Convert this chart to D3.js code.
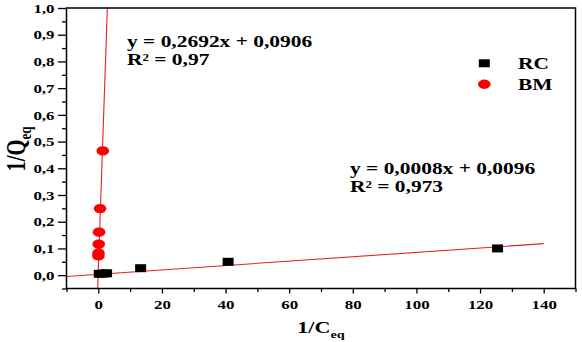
<!DOCTYPE html>
<html>
<head>
<meta charset="utf-8">
<script src="https://cdn.jsdelivr.net/npm/d3@7"></script>
<style>
  body { margin: 0; background: #fff; }
</style>
</head>
<body>
<svg id="chart" width="582" height="342"></svg>
<script>
//data
const rcX = [0.3, 1.5, 2.6, 13.3, 40.8, 125.5];
const rcY = [0.005, 0.006, 0.007, 0.026, 0.05, 0.1];
const bmX = [0.02, 0.05, 0.12, 0.22, 0.55, 1.4];
const bmY = [0.072, 0.083, 0.116, 0.161, 0.249, 0.465];

//fit lines as drawn (endpoints)
const rcFitX = [-10, 140];
const rcFitY = [-0.005, 0.118];
const bmFitX = [-0.2, 2.84];
const bmFitY = [-0.05, 1.0];

const xTicks = [0, 20, 40, 60, 80, 100, 120, 140];
const xMinor = [-10, 10, 30, 50, 70, 90, 110, 130, 150];
const yTicks = [0, 0.1, 0.2, 0.3, 0.4, 0.5, 0.6, 0.7, 0.8, 0.9, 1.0];
const yMinor = [-0.05, 0.05, 0.15, 0.25, 0.35, 0.45, 0.55, 0.65, 0.75, 0.85, 0.95];

const eqBM = ["y = 0,2692x + 0,0906", "R² = 0,97"];
const eqRC = ["y = 0,0008x + 0,0096", "R² = 0,973"];
const legendNames = ["RC", "BM"];

//setting dimensions
const pLeft = 66.5, pRight = 575.5, pTop = 8, pBottom = 288.5;
const stretch = 1.3; //the picture is wider than tall, text too
const FONT = "'Liberation Serif', 'Times New Roman', serif";
const svg = d3.select("#chart");

const scaleX = d3.scaleLinear().domain([-10, 150]).range([pLeft, pRight]);
const scaleY = d3.scaleLinear().domain([-0.05, 1.0]).range([pBottom, pTop]);

const fmt = d => d3.format(".1f")(d).replace(".", ",");

const styleText = function(sel, size){
  return sel.style("font-family", FONT).style("font-weight", "bold").style("font-size", size + "px").attr("fill", "#000");
};

//write stretched text at x, y
const addText = function(x, y, str, size){
  return styleText(svg.append("text"), size)
    .attr("transform", `translate(${x}, ${y}) scale(${stretch}, 1)`)
    .text(str);
};

//fit lines
const line = d3.line().x(d => scaleX(d[0])).y(d => scaleY(d[1]));
svg.append("path")
  .datum(d3.zip(rcFitX, rcFitY))
  .attr("fill", "none").attr("stroke", "#e32020").attr("stroke-width", 1.1)
  .attr("d", line);

svg.append("clipPath").attr("id", "clip")
  .append("rect").attr("x", pLeft).attr("y", pTop).attr("width", pRight - pLeft).attr("height", pBottom - pTop);
svg.append("path")
  .datum(d3.zip(bmFitX, bmFitY))
  .attr("clip-path", "url(#clip)")
  .attr("fill", "none").attr("stroke", "#e32020").attr("stroke-width", 1.1)
  .attr("d", line);

//markers
svg.append("g").selectAll("ellipse")
  .data(d3.zip(bmX, bmY))
  .join("ellipse")
  .attr("cx", d => scaleX(d[0])).attr("cy", d => scaleY(d[1]))
  .attr("rx", 6.3).attr("ry", 4.7)
  .attr("fill", "#ff0000");

svg.append("g").selectAll("rect")
  .data(d3.zip(rcX, rcY))
  .join("rect")
  .attr("x", d => scaleX(d[0]) - 5.5).attr("y", d => scaleY(d[1]) - 4)
  .attr("width", 11).attr("height", 8)
  .attr("fill", "#000");

//x axis
const gx = svg.append("g").attr("transform", `translate(0, ${pBottom})`)
  .call(d3.axisBottom(scaleX).tickValues(xTicks).tickFormat(d3.format("d")).tickSize(5).tickPadding(6));
gx.select(".domain").remove();
styleText(gx.selectAll("text"), 13).attr("transform", `scale(${stretch}, 1)`);
svg.append("g").attr("transform", `translate(0, ${pBottom})`)
  .call(d3.axisBottom(scaleX).tickValues(xMinor).tickFormat("").tickSize(3.5))
  .select(".domain").remove();

//y axis
const gy = svg.append("g").attr("transform", `translate(${pLeft}, 0)`)
  .call(d3.axisLeft(scaleY).tickValues(yTicks).tickFormat(fmt).tickSize(8.5));
gy.select(".domain").remove();
styleText(gy.selectAll("text"), 13).attr("x", 0).attr("transform", `translate(-12, 0) scale(${stretch}, 1)`);
svg.append("g").attr("transform", `translate(${pLeft}, 0)`)
  .call(d3.axisLeft(scaleY).tickValues(yMinor).tickFormat("").tickSize(4.5))
  .select(".domain").remove();

svg.selectAll(".tick line").attr("stroke", "#000").attr("stroke-width", 1.3);

//frame
svg.append("rect")
  .attr("x", pLeft).attr("y", pTop).attr("width", pRight - pLeft).attr("height", pBottom - pTop)
  .attr("fill", "none").attr("stroke", "#000").attr("stroke-width", 1.5);

//axis titles
const yt = styleText(svg.append("text"), 20.5)
  .attr("transform", `translate(25, 149) scale(${stretch}, 1) rotate(-90)`)
  .attr("text-anchor", "middle");
yt.append("tspan").text("1/Q");
yt.append("tspan").attr("dy", 4.5).style("font-size", "13px").text("eq");

const xt = addText(321, 333, "", 17).attr("text-anchor", "middle");
xt.append("tspan").text("1/C");
xt.append("tspan").attr("dy", 5).style("font-size", "11px").text("eq");

//equations
eqBM.forEach((t, i) => addText(127, 47 + i * 17.5, t, 16.5));
eqRC.forEach((t, i) => addText(350, 174 + i * 17.5, t, 16.5));

//legend
svg.append("rect").attr("x", 484.3 - 5.5).attr("y", 63.3 - 4).attr("width", 11).attr("height", 8).attr("fill", "#000");
svg.append("ellipse").attr("cx", 484.3).attr("cy", 84.3).attr("rx", 6.3).attr("ry", 4.7).attr("fill", "#ff0000");
legendNames.forEach((t, i) => addText(518, 69 + i * 20.5, t, 16.5));
</script>
</body>
</html>
